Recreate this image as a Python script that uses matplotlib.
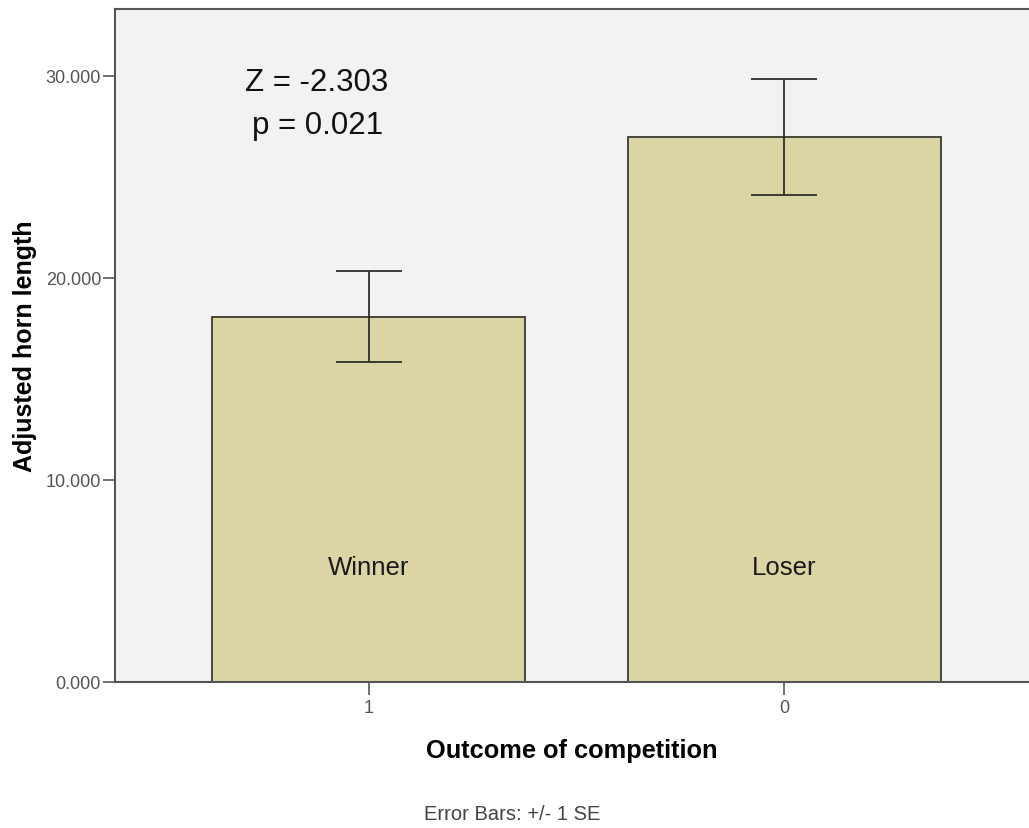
import matplotlib
matplotlib.use("Agg")
import matplotlib.pyplot as plt

plt.rcParams['font.family'] = ['Liberation Sans', 'DejaVu Sans']

# data
tick_labels = ['1', '0']
bar_names = ['Winner', 'Loser']
means = [18.08, 26.98]
se = [2.26, 2.86]

fig = plt.figure(figsize=(10.29, 8.29), dpi=100)
ax = fig.add_axes([115/1029, 1-683/829, 1-115/1029, 673/829])
ax.set_facecolor('#f2f2f2')

xpos = [0, 1]
ax.bar(xpos, means, width=0.752, color='#dbd5a5', edgecolor='#3a3a30', linewidth=1.3, zorder=2)
ax.errorbar(xpos, means, yerr=se, fmt='none', ecolor='#2e2e2e', elinewidth=1.3,
            capsize=24, capthick=1.3, zorder=3)

for x, name in zip(xpos, bar_names):
    ax.text(x, 5.69, name, ha='center', va='center', fontsize=18.5, color='#1a1a1a', zorder=4)

ax.text(-0.124, 29.7, 'Z = -2.303', ha='center', va='center', fontsize=22.5, color='#111111')
ax.text(-0.124, 27.55, 'p = 0.021', ha='center', va='center', fontsize=22.5, color='#111111')

ax.set_xlim(-0.61, 1.588)
ax.set_ylim(0, 33.3)
ax.set_xticks(xpos)
ax.set_xticklabels(tick_labels)
ax.set_yticks([0, 10, 20, 30])
ax.set_yticklabels(['0.000', '10.000', '20.000', '30.000'])
ax.tick_params(axis='both', labelsize=13, labelcolor='#555555', color='#666666',
               length=9, width=1.3)
ax.tick_params(axis='x', pad=3)
ax.tick_params(axis='y', pad=1)

for side in ['left', 'top', 'bottom']:
    ax.spines[side].set_color('#555555')
    ax.spines[side].set_linewidth(1.5)
ax.spines['right'].set_visible(False)

ax.set_ylabel('Adjusted horn length', fontsize=18, fontweight='bold', labelpad=6)
ax.set_xlabel('Outcome of competition', fontsize=18.3, fontweight='bold', labelpad=16)
fig.text(512/1029, 1-815/829, 'Error Bars: +/- 1 SE', ha='center', va='center',
         fontsize=14.5, color='#444444')

fig.savefig('out.png', dpi=100)
